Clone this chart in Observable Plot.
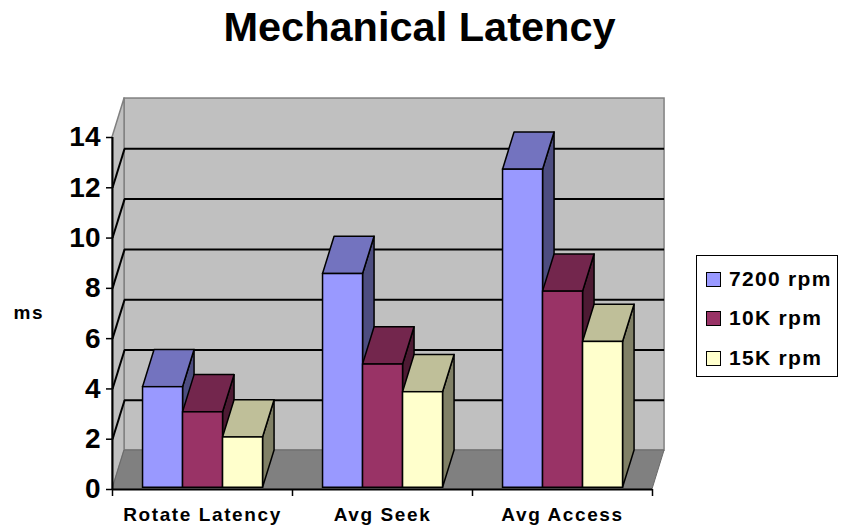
<!DOCTYPE html>
<html>
<head>
<meta charset="utf-8">
<script src="https://cdn.jsdelivr.net/npm/d3@7"></script>
<script src="https://cdn.jsdelivr.net/npm/@observablehq/plot@0.6"></script>
<style>
  body { margin: 0; background: #fff; }
  #wrap { position: relative; width: 841px; height: 525px; font-family: "Liberation Sans", Arial, sans-serif; }
  #legend { position: absolute; left: 696px; top: 255px; width: 142px; height: 122px; box-sizing: border-box;
    border: 1.5px solid #000; background: #fff; }
  .item { position: absolute; left: 9px; height: 24px; display: flex; align-items: center; }
  .sw { width: 15px; height: 15px; box-sizing: border-box; border: 1.5px solid #000; margin-right: 8px; }
  .lt { font-weight: bold; font-size: 21px; letter-spacing: 1.3px; color: #000; }
</style>
</head>
<body>
<div id="wrap"></div>
<script>
const categories = ["Rotate Latency", "Avg Seek", "Avg Access"];
const seriesNames = ["7200 rpm", "10K rpm", "15K rpm"];
const rpm7200 = [4, 8.5, 12.65];
const rpm10k = [3, 4.9, 7.8];
const rpm15k = [2, 3.8, 5.8];
const yTicks = [0, 2, 4, 6, 8, 10, 12, 14];
const gridValues = [2, 4, 6, 8, 10, 12];
const frontColors = ["#9999FF", "#993366", "#FFFFCC"];
const topColors = ["#7373BF", "#73264D", "#BFBF99"];
const sideColors = ["#4D4D80", "#4D1A33", "#808066"];

// depth of the 3D box, in data units (x: categories, y: ms)
const DX = 0.067, DY = 1.55, F0 = 0.045;
const YMAX = 14, XMAX = categories.length;

const seriesValues = [rpm7200, rpm10k, rpm15k];
const bars = [];
categories.forEach((c, i) => seriesValues.forEach((arr, s) => {
  const x1 = i + 1/6 + s * 2/9;
  bars.push({id: i * 3 + s, s, v: arr[i], x1, x2: x1 + 2/9});
}));
const tops = bars.flatMap(b => [
  {id: b.id, s: b.s, y: b.v + F0 * DY, x1: b.x1 + F0 * DX, x2: b.x2 + F0 * DX},
  {id: b.id, s: b.s, y: b.v + DY, x1: b.x1 + DX, x2: b.x2 + DX}
]);
const sides = bars.flatMap(b => [
  {id: b.id, s: b.s, x: b.x2 + F0 * DX, y1: F0 * DY, y2: b.v + F0 * DY},
  {id: b.id, s: b.s, x: b.x2 + DX, y1: DY, y2: b.v + DY}
]);

const chart = Plot.plot({
  width: 841, height: 525,
  marginLeft: 112, marginRight: 189, marginTop: 137, marginBottom: 36,
  x: {domain: [0, XMAX]},
  y: {domain: [0, YMAX]},
  color: {type: "identity"},
  style: {fontFamily: "'Liberation Sans', Arial, sans-serif", color: "#000", background: "#fff", overflow: "visible"},
  marks: [
    Plot.rect([0], {x1: DX, x2: XMAX + DX, y1: DY, y2: YMAX + DY, fill: "#C0C0C0", stroke: "#808080", strokeWidth: 1.5}),
    Plot.areaY([{x: 0, y1: 0, y2: YMAX}, {x: DX, y1: DY, y2: YMAX + DY}], {x: "x", y1: "y1", y2: "y2", fill: "#C0C0C0", stroke: "#808080", strokeWidth: 1.5}),
    Plot.areaX([{y: 0, x1: 0, x2: XMAX}, {y: DY, x1: DX, x2: XMAX + DX}], {y: "y", x1: "x1", x2: "x2", fill: "#808080", stroke: "#6a6a6a", strokeWidth: 1}),
    Plot.ruleY(gridValues, {y: d => d + DY, x1: DX, x2: XMAX + DX, stroke: "#000", strokeWidth: 2}),
    Plot.link(gridValues, {x1: 0, y1: d => d, x2: DX, y2: d => d + DY, stroke: "#000", strokeWidth: 2}),
    Plot.areaY(sides, {x: "x", y1: "y1", y2: "y2", z: "id", fill: d => sideColors[d.s], stroke: "#000", strokeWidth: 1.5, strokeLinejoin: "round"}),
    Plot.areaX(tops, {y: "y", x1: "x1", x2: "x2", z: "id", fill: d => topColors[d.s], stroke: "#000", strokeWidth: 1.5, strokeLinejoin: "round"}),
    Plot.rect(bars, {x1: d => d.x1 + F0 * DX, x2: d => d.x2 + F0 * DX, y1: F0 * DY, y2: d => d.v + F0 * DY,
      fill: d => frontColors[d.s], stroke: "#000", strokeWidth: 1.5}),
    Plot.ruleX([0], {y1: 0, y2: YMAX, stroke: "#000", strokeWidth: 2}),
    Plot.ruleY([0], {x1: 0, x2: XMAX, stroke: "#000", strokeWidth: 2}),
    Plot.axisY({ticks: yTicks, tickSize: 6, tickPadding: 6, fontSize: 28, fontWeight: "bold", label: null, strokeWidth: 1.5}),
    Plot.axisX({ticks: d3.range(XMAX + 1), tickFormat: () => "", tickSize: 7, label: null, strokeWidth: 1.5}),
    Plot.text(categories, {x: (d, i) => i + 0.5, frameAnchor: "bottom", lineAnchor: "bottom", dy: 31, fontSize: 19, fontWeight: "bold"}),
    Plot.text(["ms"], {frameAnchor: "left", textAnchor: "start", dx: -99, dy: -1, fontSize: 19, fontWeight: "bold"}),
    Plot.text(["Mechanical Latency"], {frameAnchor: "top", lineAnchor: "top", dx: 37, dy: -125.5, fontSize: 41.5, fontWeight: "bold"})
  ]
});
d3.select(chart).selectAll("text")
  .filter(function() { return categories.includes(this.textContent) || this.textContent === "ms"; })
  .attr("letter-spacing", "1.6px");

const wrap = document.getElementById("wrap");
wrap.appendChild(chart);

const legend = document.createElement("div");
legend.id = "legend";
const rowTops = [11, 50, 90];
seriesNames.forEach((name, s) => {
  const item = document.createElement("div");
  item.className = "item";
  item.style.top = rowTops[s] + "px";
  const sw = document.createElement("div");
  sw.className = "sw";
  sw.style.background = frontColors[s];
  const t = document.createElement("span");
  t.className = "lt";
  t.textContent = name;
  item.appendChild(sw);
  item.appendChild(t);
  legend.appendChild(item);
});
wrap.appendChild(legend);
</script>
</body>
</html>
